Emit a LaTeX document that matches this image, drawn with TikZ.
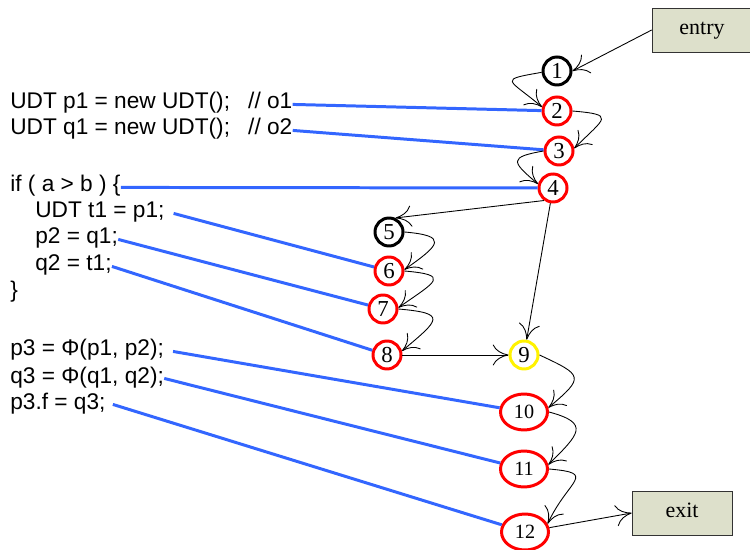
\documentclass[tikz,border=0pt]{standalone}
\usepackage{fontspec}
\setmainfont{Liberation Serif}
\newfontfamily\codefont{Liberation Sans}
\usetikzlibrary{arrows.meta, shapes.geometric}
\definecolor{boxfill}{RGB}{221,224,203}
\definecolor{linkblue}{RGB}{51,102,255}
\begin{document}
\begin{tikzpicture}[x=0.02cm, y=0.02cm,
            main/.style = {circle, draw=red, line width=1.7pt, minimum size=0.56cm, inner sep=0pt, font=\fontsize{13}{15}\selectfont},
            oval/.style = {main, ellipse, minimum width=0.94cm, minimum height=0.72cm, font=\fontsize{11.5}{13}\selectfont},
            term/.style = {draw=black!80, fill=boxfill, minimum width=2cm, minimum height=0.88cm, text height=1ex, text depth=0pt, font=\fontsize{12.5}{14}\selectfont},
            code/.style = {anchor=base west, inner sep=0pt, text height=0.72em, text depth=0.2em, font=\codefont\fontsize{12.9}{14}\selectfont},
            link/.style = {draw=linkblue, line width=1.7pt},
            flow/.style = {-{Computer Modern Rightarrow[length=9pt, width=12pt]}, line width=0.5pt}]
            \useasboundingbox (0,0) rectangle (750,-550);

            \node[term] (entry) at (702,-30)  {entry};
            \node[term] (exit)  at (682,-513) {exit};

            \node[main, draw=black] (1) at (557,-71)  {1};
            \node[main] (2)             at (557,-111) {2};
            \node[main] (3)             at (559,-151) {3};
            \node[main] (4)             at (553,-188) {4};
            \node[main, draw=black] (5) at (389,-232) {5};
            \node[main] (6)             at (389,-271) {6};
            \node[main] (7)             at (383,-309) {7};
            \node[main] (8)             at (387,-355) {8};
            \node[main, draw=yellow] (9) at (524,-355) {9};
            \node[oval] (10)            at (524,-412) {10};
            \node[oval] (11)            at (524,-469) {11};
            \node[oval] (12)            at (525,-532) {12};

            \node[code] (p1)  at (10,-109) {UDT p1 = new UDT();\hspace{0.8em}// o1};
            \node[code] (q1)  at (10,-135) {UDT q1 = new UDT();\hspace{0.8em}// o2};
            \node[code] (if)  at (10,-192) {if ( a > b ) \{};
            \node[code] (t1)  at (35,-218) {UDT t1 = p1;};
            \node[code] (p2)  at (35,-244) {p2 = q1;};
            \node[code] (q2)  at (35,-271) {q2 = t1;};
            \node[code] (end) at (10,-297) {\}};
            \node[code] (p3)  at (10,-356) {p3 = Φ(p1, p2);};
            \node[code] (q3)  at (10,-383) {q3 = Φ(q1, q2);};
            \node[code] (p3f) at (10,-409) {p3.f = q3;};

            \draw[link] (p1.east) -- (2);
            \draw[link] (q1.east) -- (3);
            \draw[link] (if.east) -- (4);
            \draw[link] ([xshift=5pt]t1.east) -- (6);
            \draw[link] (p2.east) -- (7);
            \draw[link] (q2.east) -- (8);
            \draw[link] ([xshift=5pt]p3.east) -- (10);
            \draw[link] (q3.east) -- (11);
            \draw[link] ([xshift=4pt]p3f.east) -- (12);

            \draw[flow] (entry.west) -- (1.east);
            \draw[flow] (1.185) to[out=190, in=140, looseness=3.3] (2.165);
            \draw[flow] (2.east) to[out=-5, in=45, looseness=3] (3.10);
            \draw[flow] (3.west) to[out=190, in=140, looseness=2.7] (4.165);
            \draw[flow] (4.234) -- (5.65);
            \draw[flow] (4) -- (9);
            \draw[flow] (5.east) to[out=-5, in=35, looseness=3] (6.5);
            \draw[flow] (6.east) to[out=-5, in=35, looseness=3.2] (7.5);
            \draw[flow] (7.east) to[out=-5, in=40, looseness=3] (8.15);
            \draw[flow] (8) -- (9);
            \draw[flow] (9.east) to[out=-25, in=40, looseness=2.3] (10.10);
            \draw[flow] (10.east) to[out=-15, in=45, looseness=2.1] (11.10);
            \draw[flow] (11.east) to[out=-5, in=65, looseness=2.3] (12.20);
            \draw[flow] (12) -- (exit.west);
        \end{tikzpicture}
\end{document}
